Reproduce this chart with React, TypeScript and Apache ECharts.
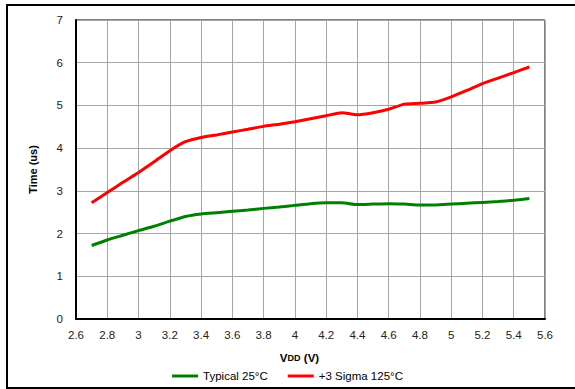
import React, { useEffect, useRef } from "react";
import * as echarts from "echarts";

const xValues = [2.7, 2.8, 2.9, 3.0, 3.1, 3.2, 3.3, 3.4, 3.5, 3.6, 3.7, 3.8, 3.9, 4.0, 4.1, 4.2, 4.3, 4.4, 4.5, 4.6, 4.7, 4.8, 4.9, 5.0, 5.1, 5.2, 5.3, 5.4, 5.5];
const typical25 = [1.72, 1.85, 1.96, 2.07, 2.17, 2.29, 2.40, 2.46, 2.49, 2.52, 2.55, 2.59, 2.62, 2.66, 2.70, 2.72, 2.72, 2.68, 2.69, 2.70, 2.69, 2.67, 2.67, 2.69, 2.71, 2.73, 2.75, 2.78, 2.82];
const sigma125 = [2.72, 2.96, 3.20, 3.43, 3.68, 3.94, 4.15, 4.25, 4.31, 4.38, 4.44, 4.51, 4.56, 4.62, 4.69, 4.76, 4.83, 4.78, 4.83, 4.91, 5.03, 5.05, 5.08, 5.20, 5.35, 5.51, 5.64, 5.77, 5.90];
const seriesNames = ["Typical 25°C", "+3 Sigma 125°C"];
const seriesColors = ["#008000", "#ff0000"];

export default function App() {
  const ref = useRef<HTMLDivElement>(null);
  useEffect(() => {
    if (!ref.current) return;
    const chart = echarts.init(ref.current, undefined, { renderer: "svg" });
    const font = "Liberation Sans, Arial, sans-serif";
    const mk = (arr: number[]) => xValues.map((x, i) => [x, arr[i]]);
    chart.setOption({
      animation: false,
      backgroundColor: "#ffffff",
      textStyle: { fontFamily: font },
      graphic: [
        {
          type: "rect",
          shape: { x: 7, y: 5, width: 620, height: 383 },
          style: { fill: "none", stroke: "#000", lineWidth: 2 },
          silent: true,
        },
      ],
      grid: {
        left: 76,
        top: 20,
        right: 30,
        bottom: 70,
        show: true,
        borderColor: "#000",
        borderWidth: 1,
        backgroundColor: "transparent",
      },
      legend: {
        bottom: 2,
        left: "center",
        icon: "rect",
        itemWidth: 26,
        itemHeight: 3,
        itemGap: 20,
        textStyle: { fontFamily: font, fontSize: 11.5, color: "#000" },
        data: seriesNames,
      },
      xAxis: {
        type: "value",
        min: 2.6,
        max: 5.6,
        interval: 0.2,
        axisLine: { show: true, lineStyle: { color: "#000", width: 2 } },
        axisTick: { show: false },
        splitLine: { show: true, lineStyle: { color: "#a6a6a6", width: 1 } },
        axisLabel: {
          margin: 10,
          fontSize: 11.5,
          color: "#222",
          fontFamily: font,
          formatter: (v: number) => String(Math.round(v * 10) / 10),
        },
        name: "{a|V}{b|DD} {a|(V)}",
        nameLocation: "middle",
        nameGap: 33,
        nameTextStyle: {
          padding: [0, 22, 0, 0],
          rich: {
            a: { fontSize: 11.5, fontWeight: "bold", fontFamily: font, color: "#000" },
            b: { fontSize: 9, fontWeight: "bold", fontFamily: font, color: "#000" },
          },
        },
      },
      yAxis: {
        type: "value",
        min: 0,
        max: 7,
        interval: 1,
        axisLine: { show: true, lineStyle: { color: "#000", width: 2 } },
        axisTick: { show: false },
        splitLine: { show: true, lineStyle: { color: "#a6a6a6", width: 1 } },
        axisLabel: { margin: 13, fontSize: 11.5, color: "#222", fontFamily: font },
        name: "Time (us)",
        nameLocation: "middle",
        nameGap: 38,
        nameTextStyle: { fontSize: 11, fontWeight: "bold", color: "#000", fontFamily: font },
      },
      series: [
        {
          name: seriesNames[0],
          type: "line",
          data: mk(typical25),
          smooth: 0.2,
          symbol: "none",
          lineStyle: { color: seriesColors[0], width: 3 },
          itemStyle: { color: seriesColors[0] },
        },
        {
          name: seriesNames[1],
          type: "line",
          data: mk(sigma125),
          smooth: 0.2,
          symbol: "none",
          lineStyle: { color: seriesColors[1], width: 3 },
          itemStyle: { color: seriesColors[1] },
        },
      ],
    });
    return () => chart.dispose();
  }, []);
  return (
    <div
      ref={ref}
      style={{ position: "fixed", left: 0, top: 0, width: 575, height: 389 }}
    />
  );
}
